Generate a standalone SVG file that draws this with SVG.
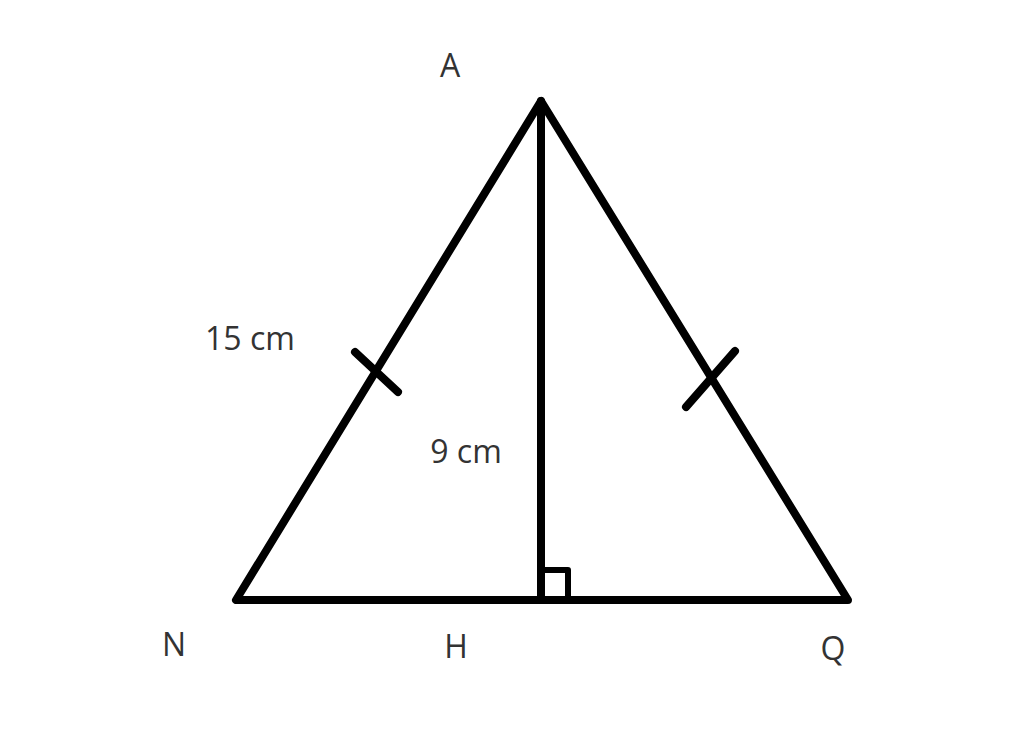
<svg xmlns="http://www.w3.org/2000/svg" width="1024" height="745" viewBox="0 0 1024 745">
<style>
.ln{stroke:#000;stroke-width:8;fill:none;stroke-linecap:round;stroke-linejoin:round}
.t{font-family:"Open Sans","Liberation Sans",sans-serif;font-size:32px;fill:#333}
</style>
<rect width="1024" height="745" fill="#fff"/>
<g id="triangle">
<polygon class="ln" points="541,101 236,600 848,600"/>
</g>
<g id="connectors">
<line class="ln" x1="541" y1="101" x2="541" y2="600"/>
<line class="ln" x1="355" y1="352" x2="398" y2="392"/>
<line class="ln" x1="735" y1="351" x2="686" y2="407"/>
<polyline class="ln" style="stroke-width:6;stroke-linecap:butt" points="541,570 568,570 568,600"/>
</g>
<g id="labels">
<text class="t" x="450" y="77" text-anchor="middle">A</text>
<text class="t" x="174" y="656" text-anchor="middle">N</text>
<text class="t" x="456" y="658" text-anchor="middle">H</text>
<text class="t" x="833" y="660" text-anchor="middle">Q</text>
<text class="t" x="250" y="350" text-anchor="middle">15 cm</text>
<text class="t" x="466" y="463" text-anchor="middle">9 cm</text>
</g>
</svg>
